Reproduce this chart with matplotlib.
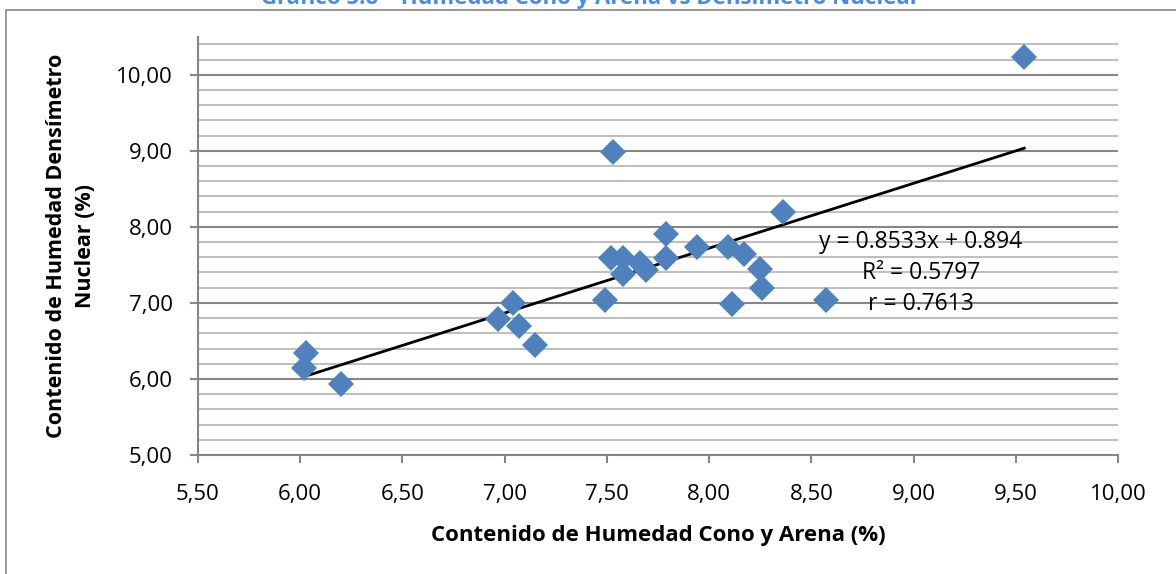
import numpy as np
import matplotlib.pyplot as plt
from matplotlib.patches import Rectangle
from matplotlib.ticker import MultipleLocator, FuncFormatter

# humedad cono y arena (%) vs densimetro nuclear (%)
cono_arena = [6.03, 6.02, 6.20, 6.97, 7.04, 7.07, 7.15, 7.49, 7.53, 7.52, 7.58,
              7.58, 7.66, 7.69, 7.79, 7.79, 7.94, 8.09, 8.11, 8.17, 8.25, 8.26,
              8.36, 8.57, 9.54]
densimetro = [6.34, 6.15, 5.94, 6.79, 7.00, 6.69, 6.44, 7.04, 8.99, 7.59, 7.59,
              7.38, 7.52, 7.43, 7.90, 7.59, 7.74, 7.74, 6.99, 7.64, 7.45, 7.19,
              8.19, 7.04, 10.24]
pendiente = 0.8533
intercepto = 0.894
r2 = 0.5797
r = 0.7613

plt.rcParams['font.family'] = ['Open Sans', 'DejaVu Sans']

fig = plt.figure(figsize=(11.76, 5.74), dpi=100)
ax = fig.add_axes([0.1681, 0.2073, 0.951 - 0.1681, 0.936 - 0.2073])

gris = '#868686'
ax.set_xlim(5.5, 10.0)
ax.set_ylim(5.0, 10.5)
ax.xaxis.set_major_locator(MultipleLocator(0.5))
ax.yaxis.set_major_locator(MultipleLocator(1.0))
ax.yaxis.set_minor_locator(MultipleLocator(0.2))
coma = FuncFormatter(lambda v, p: f'{v:.2f}'.replace('.', ','))
ax.xaxis.set_major_formatter(coma)
ax.yaxis.set_major_formatter(coma)

ax.grid(axis='y', which='major', color=gris, lw=1.5)
ax.grid(axis='y', which='minor', color='#bfbfbf', lw=1.5)
ax.set_axisbelow(True)
for s in ['top', 'right']:
    ax.spines[s].set_visible(False)
for s in ['left', 'bottom']:
    ax.spines[s].set_color(gris)
    ax.spines[s].set_linewidth(1.5)
ax.tick_params(axis='both', which='major', direction='out', length=6, width=1.5,
               color=gris, labelsize=16)
ax.tick_params(axis='x', pad=15)
ax.tick_params(axis='y', pad=12)
ax.tick_params(axis='y', which='minor', length=0)

# linea de tendencia
xl = np.array([min(cono_arena), max(cono_arena)])
ax.plot(xl, pendiente * xl + intercepto, color='black', lw=2, zorder=3)
ax.plot(cono_arena, densimetro, ls='none', marker='D', markersize=13,
        color='#4F81BD', markeredgewidth=0, zorder=4)

ax.text(9.035, 7.39, f'y = {pendiente}x + {intercepto}\nR² = {r2}\nr = {r}',
        ha='center', va='center', fontsize=16.5, linespacing=1.4, zorder=5)

ax.set_xlabel('Contenido de Humedad Cono y Arena (%)', fontsize=16,
              fontweight='bold', labelpad=14)
ax.set_ylabel('Contenido de Humedad Densímetro\nNuclear (%)', fontsize=15.5,
              fontweight='bold', labelpad=14, linespacing=1.5)

fig.text(590 / 1176, 1 - 4 / 574,
         'Gráfico 5.6 – Humedad Cono y Arena vs Densímetro Nuclear',
         ha='center', va='baseline', fontsize=16, fontweight='bold', color='#4A8DE0')
fig.add_artist(Rectangle((6 / 1176, -0.5), 2, 0.5 + 1 - 10 / 574,
                         transform=fig.transFigure, fill=False,
                         edgecolor=gris, lw=1.2))

fig.savefig('out.png', dpi=100)
